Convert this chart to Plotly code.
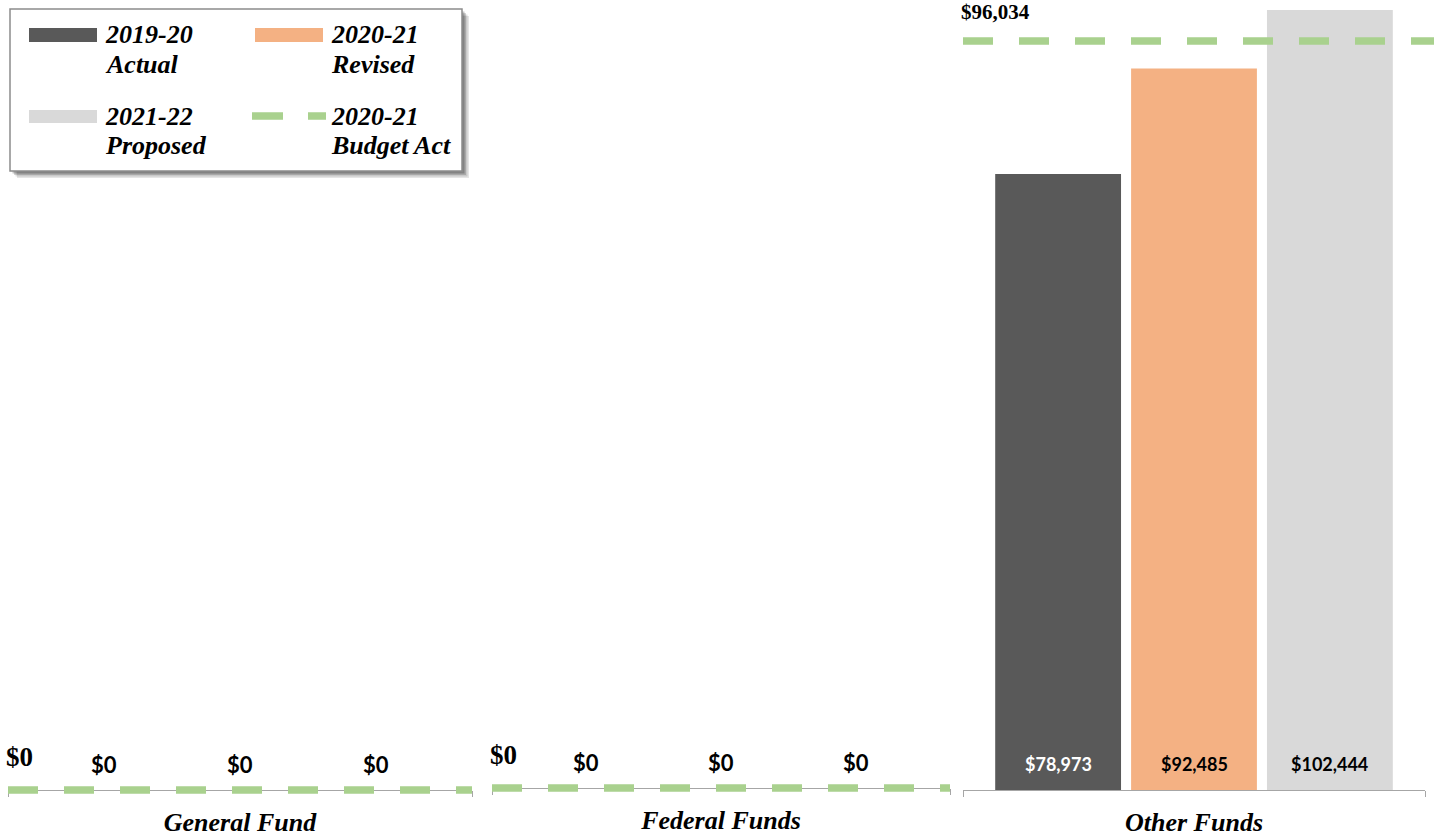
import plotly.graph_objects as go

W, H = 1434, 836

# ---- data -------------------------------------------------------------
categories = ["General Fund", "Federal Funds", "Other Funds"]
legend_labels = [("2019-20", "Actual"), ("2020-21", "Revised"),
                 ("2021-22", "Proposed"), ("2020-21", "Budget Act")]
actual_2019_20 = [0, 0, 78973]
revised_2020_21 = [0, 0, 92485]
proposed_2021_22 = [0, 0, 102444]
budget_act_2020_21 = [0, 0, 96034]

# ---- style ------------------------------------------------------------
bar_colors = ["#595959", "#F4B183", "#D9D9D9"]
inside_label_colors = ["white", "black", "black"]
budget_color = "#A9D18E"
axis_color = "#A6A6A6"
SERIF = "Liberation Serif"
SANS = "Lato"

# pixel geometry of the three small charts
panels = [
    dict(x0=8, x1=472, line_end=472, zero=790, top=10, bar_font=22,
         budget_font=27, budget_shift=33),
    dict(x0=492, x1=950, line_end=950, zero=788, top=10, bar_font=22,
         budget_font=27, budget_shift=33),
    dict(x0=963, x1=1425, line_end=1434, zero=790, top=10, bar_font=18,
         budget_font=21, budget_shift=29),
]
YMAX = 100000
PAD = 10           # px of room below zero so the dashed line is not clipped
XR = [-0.7, 2.7]   # bar slots 0,1,2


def px(x):
    return x / W


def py(y):
    return 1 - y / H


fig = go.Figure()
annotations = []
layout_axes = {}

for i, p in enumerate(panels):
    n = i + 1
    m = n + len(panels)          # hidden axis carrying the budget line
    xa, ya, xl = f"x{n}", f"y{n}", f"x{m}"
    vals = [actual_2019_20[i], revised_2020_21[i], proposed_2021_22[i]]
    budget = budget_act_2020_21[i]

    # the budget line may run a little past the end of the category axis
    px_per_unit = (p["x1"] - p["x0"]) / (XR[1] - XR[0])
    line_xr = [XR[0], XR[0] + (p["line_end"] - p["x0"]) / px_per_unit]

    fig.add_trace(go.Bar(
        x=[0, 1, 2], y=vals, marker=dict(color=bar_colors, line=dict(width=0)),
        xaxis=xa, yaxis=ya, hoverinfo="skip"))
    fig.add_trace(go.Scatter(
        x=line_xr, y=[budget, budget], mode="lines", xaxis=xl, yaxis=ya,
        line=dict(color=budget_color, width=7.5, dash="30px,26px"),
        hoverinfo="skip"))

    units_per_px = YMAX / (p["zero"] - p["top"])
    ymin = -PAD * units_per_px

    layout_axes[f"xaxis{n}" if n > 1 else "xaxis"] = dict(
        domain=[px(p["x0"]), px(p["x1"])], range=XR, anchor="free",
        position=py(p["zero"]), showline=True, linecolor=axis_color,
        linewidth=1, showgrid=False, zeroline=False,
        tickmode="array", tickvals=[1],
        ticktext=[f"<b><i>{categories[i]}</i></b>"], ticks="",
        tickfont=dict(family=SERIF, size=26, color="black"),
        ticklabelstandoff=9,
        minor=dict(tickmode="array", tickvals=XR, ticks="outside", ticklen=6,
                   tickwidth=1, tickcolor=axis_color, showgrid=False),
        fixedrange=True)
    layout_axes[f"xaxis{m}"] = dict(
        domain=[px(p["x0"]), px(p["line_end"])], range=line_xr, anchor=ya,
        visible=False, fixedrange=True)
    layout_axes[f"yaxis{n}" if n > 1 else "yaxis"] = dict(
        domain=[py(p["zero"] + PAD), py(p["top"])], range=[ymin, YMAX],
        anchor=xa, visible=False, fixedrange=True)

    for j, v in enumerate(vals):
        annotations.append(dict(
            x=j, y=0, xref=xa, yref=ya, text=f"<b>${v:,}</b>",
            showarrow=False, yanchor="middle", yshift=26,
            font=dict(family=SANS, size=p["bar_font"],
                      color=inside_label_colors[j] if v > 0 else "black")))

    annotations.append(dict(
        x=XR[0], y=budget, xref=xa, yref=ya, text=f"<b>${budget:,}</b>",
        showarrow=False, xanchor="left", yanchor="middle", xshift=-4,
        yshift=p["budget_shift"],
        font=dict(family=SERIF, size=p["budget_font"], color="black")))

# ---- legend box -------------------------------------------------------
shapes = []
for k, op in enumerate([0.10, 0.12, 0.16, 0.22]):
    off = 7 - k * 1.5
    shapes.append(dict(type="rect", xref="paper", yref="paper",
                       x0=px(10 + off), x1=px(462 + off),
                       y0=py(171 + off), y1=py(9 + off),
                       line=dict(width=0), fillcolor=f"rgba(0,0,0,{op})"))
shapes.append(dict(type="rect", xref="paper", yref="paper",
                   x0=px(10), x1=px(462), y0=py(171), y1=py(9),
                   line=dict(color="#8C8C8C", width=1.5), fillcolor="white"))

swatches = [(29, 28, 97, 42, bar_colors[0]), (255, 28, 323, 42, bar_colors[1]),
            (29, 110, 97, 123, bar_colors[2])]
for x0, y0, x1, y1, c in swatches:
    shapes.append(dict(type="rect", xref="paper", yref="paper",
                       x0=px(x0), x1=px(x1), y0=py(y1), y1=py(y0),
                       line=dict(width=0), fillcolor=c))
for x0, x1 in [(252, 283), (308, 326)]:
    shapes.append(dict(type="line", xref="paper", yref="paper",
                       x0=px(x0), x1=px(x1), y0=py(116), y1=py(116),
                       line=dict(color=budget_color, width=7.5)))

text_pos = [(103, 35, 65), (329, 35, 65), (103, 117, 146), (329, 117, 146)]
for (l1, l2), (x, y1, y2) in zip(legend_labels, text_pos):
    for t, y in [(l1, y1), (l2, y2)]:
        annotations.append(dict(
            x=px(x), y=py(y), xref="paper", yref="paper",
            text=f"<b><i>{t}</i></b>", showarrow=False,
            xanchor="left", yanchor="middle",
            font=dict(family=SERIF, size=26, color="black")))

fig.update_layout(
    width=W, height=H, margin=dict(l=0, r=0, t=0, b=0),
    paper_bgcolor="white", plot_bgcolor="rgba(0,0,0,0)",
    showlegend=False, bargap=0.074, barmode="group",
    annotations=annotations, shapes=shapes, **layout_axes)

fig.write_html("out.html", config=dict(displayModeBar=False))
